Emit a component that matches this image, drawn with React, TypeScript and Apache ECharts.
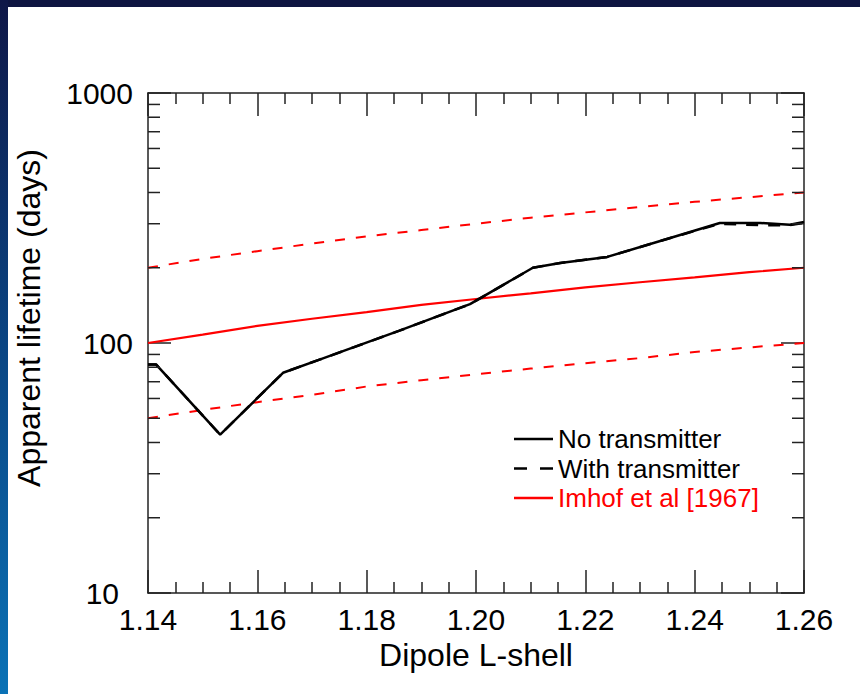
import React, { useEffect, useRef } from "react";
import * as echarts from "echarts";

// X positions (Dipole L-shell) and values (days)
const noTxL = [1.14, 1.1415, 1.1532, 1.1647, 1.1715, 1.186, 1.1989, 1.2104, 1.2154, 1.224, 1.234, 1.2446, 1.252, 1.2574, 1.26];
const noTxV = [82, 82, 43, 76, 86, 112, 143, 200, 209, 221, 257, 302, 302, 297, 305];

const withTxL = [1.14, 1.1415, 1.1532, 1.1647, 1.1715, 1.186, 1.1989, 1.2104, 1.2154, 1.224, 1.234, 1.2446, 1.252, 1.2574, 1.26];
const withTxV = [82, 82, 43, 76, 86, 112, 143, 200, 209, 221, 257, 300, 296, 296, 302];

const imhofL = [1.14, 1.15, 1.16, 1.17, 1.18, 1.19, 1.2, 1.21, 1.22, 1.23, 1.24, 1.25, 1.26];
const imhofV = [100, 108, 117, 125, 133, 142, 150, 158, 167, 175, 183, 192, 200];
const imhofUpperV = [200, 217, 233, 250, 267, 283, 300, 317, 333, 350, 367, 383, 400];
const imhofLowerV = [50, 54, 58, 62, 67, 71, 75, 79, 83, 87, 92, 96, 100];

const yMinorTicks = [20, 30, 40, 50, 60, 70, 80, 90, 200, 300, 400, 500, 600, 700, 800, 900];

const X_MIN = 1.14;
const X_MAX = 1.26;
const X_INTERVAL = 0.02;
const Y_MIN = 10;
const Y_MAX = 1000;

const FONT = "'Liberation Sans', Arial, Helvetica, sans-serif";
const AXIS_COLOR = "#222";

const zip = (xs: number[], ys: number[]) => xs.map((x, i) => [x, ys[i]]);

export default function App() {
  const ref = useRef<HTMLDivElement>(null);

  useEffect(() => {
    document.body.style.margin = "0";
    if (!ref.current) return;
    const chart = echarts.init(ref.current, undefined, { renderer: "svg" });

    const xAxisCommon = {
      type: "value",
      min: X_MIN,
      max: X_MAX,
      interval: X_INTERVAL,
      splitLine: { show: false },
      axisLine: { show: true, onZero: false, lineStyle: { color: AXIS_COLOR, width: 1.5 } },
      axisTick: { show: true, inside: true, length: 23, lineStyle: { color: AXIS_COLOR, width: 1.5 } },
      minorTick: { show: true, splitNumber: 4, length: 11, lineStyle: { color: AXIS_COLOR, width: 1.5 } },
      minorSplitLine: { show: false },
    };
    const yAxisCommon = {
      type: "log",
      logBase: 10,
      min: Y_MIN,
      max: Y_MAX,
      splitLine: { show: false },
      axisLine: { show: true, onZero: false, lineStyle: { color: AXIS_COLOR, width: 1.5 } },
      axisTick: { show: true, inside: true, length: 23, lineStyle: { color: AXIS_COLOR, width: 1.5 } },
    };

    const solidIcon = "path://M0,0h39v2.5h-39z";
    const dashedIcon = "path://M0,0h13v2.5h-13z M26,0h13v2.5h-13z";

    chart.setOption({
      animation: false,
      backgroundColor: "transparent",
      grid: { left: 148, right: 56, top: 93, bottom: 101 },
      legend: {
        orient: "vertical",
        left: 514,
        top: 426,
        padding: 0,
        itemWidth: 39,
        itemHeight: 2.5,
        itemGap: 3.5,
        selectedMode: false,
        textStyle: { fontFamily: FONT, fontSize: 26, lineHeight: 24, color: "#000" },
        data: [
          { name: "No transmitter", icon: solidIcon },
          { name: "With transmitter", icon: dashedIcon },
          { name: "Imhof et al [1967]", icon: solidIcon, textStyle: { color: "#ff0000" } },
        ],
      },
      xAxis: [
        {
          ...xAxisCommon,
          position: "bottom",
          axisLabel: {
            show: true,
            margin: 11,
            fontFamily: FONT,
            fontSize: 30,
            color: "#000",
            formatter: (v: number) => v.toFixed(2),
          },
          name: "Dipole L-shell",
          nameLocation: "middle",
          nameGap: 42,
          nameTextStyle: { fontFamily: FONT, fontSize: 32, color: "#000" },
        },
        {
          ...xAxisCommon,
          position: "top",
          axisLabel: { show: false },
        },
      ],
      yAxis: [
        {
          ...yAxisCommon,
          position: "left",
          axisLabel: {
            show: true,
            margin: 15,
            fontFamily: FONT,
            fontSize: 30,
            color: "#000",
            formatter: (v: number) => {
              const s = String(Math.round(v));
              return Math.round(v) === Y_MIN ? "{low|" + s + "}" : s;
            },
            rich: {
              low: {
                fontFamily: FONT,
                fontSize: 30,
                color: "#000",
                padding: [0, 14, 0, 0],
              },
            },
          },
        },
        {
          ...yAxisCommon,
          position: "right",
          axisLabel: { show: false },
        },
      ],
      graphic: [
        {
          type: "rect",
          left: 0,
          top: 0,
          shape: { width: 860, height: 7 },
          style: { fill: "#0e1541" },
          z: 100,
        },
        {
          type: "rect",
          left: 0,
          top: 0,
          shape: { width: 8, height: 694 },
          style: {
            fill: new echarts.graphic.LinearGradient(0, 0, 0, 1, [
              { offset: 0, color: "#0f1747" },
              { offset: 0.5, color: "#0a4583" },
              { offset: 1, color: "#0a72b6" },
            ]),
          },
          z: 100,
        },
        {
          type: "text",
          x: 29,
          y: 318,
          rotation: Math.PI / 2,
          style: {
            text: "Apparent lifetime (days)",
            fontFamily: FONT,
            fontSize: 32,
            fill: "#000",
            textAlign: "center",
            textVerticalAlign: "middle",
          },
        },
      ],
      series: [
        {
          name: "Imhof upper",
          type: "line",
          symbol: "none",
          data: zip(imhofL, imhofUpperV),
          lineStyle: { color: "#ff0000", width: 2, type: [10, 11] },
          z: 2,
        },
        {
          name: "Imhof lower",
          type: "line",
          symbol: "none",
          data: zip(imhofL, imhofLowerV),
          lineStyle: { color: "#ff0000", width: 2, type: [10, 11] },
          z: 2,
        },
        {
          name: "Imhof et al [1967]",
          type: "line",
          symbol: "none",
          color: "#ff0000",
          data: zip(imhofL, imhofV),
          lineStyle: { color: "#ff0000", width: 2.2 },
          z: 3,
        },
        {
          name: "With transmitter",
          type: "line",
          symbol: "none",
          color: "#000",
          data: zip(withTxL, withTxV),
          lineStyle: { color: "#000", width: 2.5, type: [12, 10] },
          z: 4,
        },
        {
          name: "No transmitter",
          type: "line",
          symbol: "none",
          color: "#000",
          data: zip(noTxL, noTxV),
          lineStyle: { color: "#000", width: 2.5 },
          z: 5,
        },
        {
          name: "minor y ticks",
          type: "custom",
          silent: true,
          clip: false,
          data: yMinorTicks.map((v) => [X_MIN, v]),
          renderItem: (_params: any, api: any) => {
            const v = api.value(1);
            const l = api.coord([X_MIN, v]);
            const r = api.coord([X_MAX, v]);
            const style = { stroke: AXIS_COLOR, lineWidth: 1.5 };
            return {
              type: "group",
              children: [
                { type: "line", shape: { x1: l[0], y1: l[1], x2: l[0] + 12, y2: l[1] }, style },
                { type: "line", shape: { x1: r[0] - 12, y1: r[1], x2: r[0], y2: r[1] }, style },
              ],
            };
          },
          z: 6,
        },
      ],
    });

    return () => chart.dispose();
  }, []);

  return (
    <div style={{ width: 860, height: 694, background: "#fff" }}>
      <div ref={ref} style={{ width: 860, height: 694 }} />
    </div>
  );
}
